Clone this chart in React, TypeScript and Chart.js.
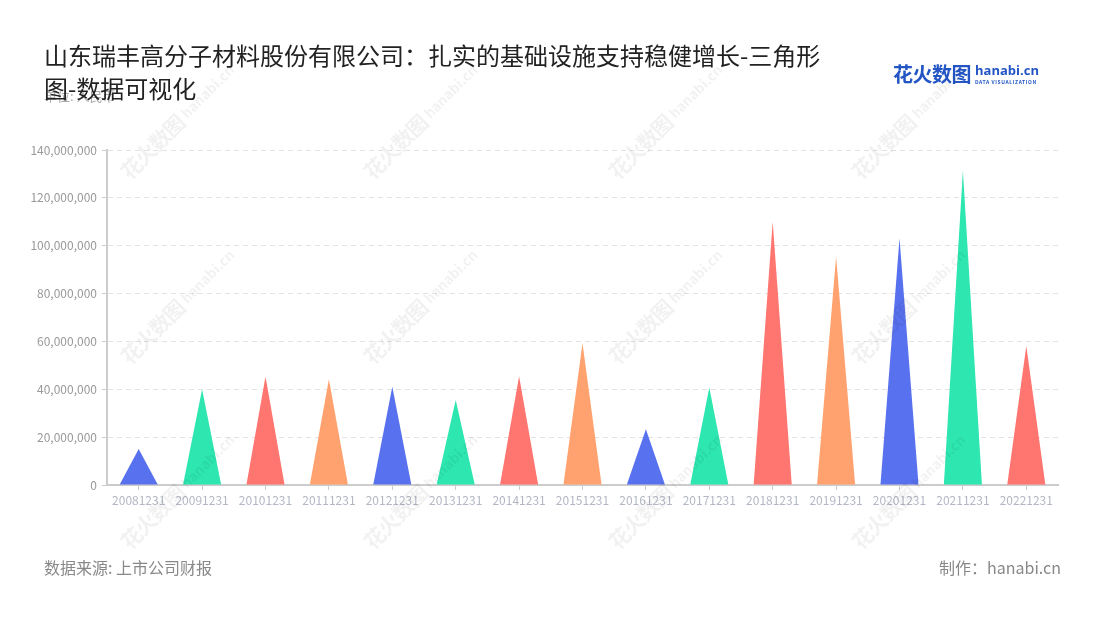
import React, { useEffect, useRef } from 'react';
import { Chart, registerables } from 'chart.js';

Chart.register(...registerables);

const categories = [
  '20081231', '20091231', '20101231', '20111231', '20121231',
  '20131231', '20141231', '20151231', '20161231', '20171231',
  '20181231', '20191231', '20201231', '20211231', '20221231',
];

const values = [
  15000000, 40000000, 45300000, 44200000, 41100000,
  35500000, 45500000, 59200000, 23300000, 40700000,
  110000000, 95400000, 103100000, 131300000, 58100000,
];

const palette = ['#5871EE', '#2DE6B0', '#FF7570', '#FFA26F'];
const barColors = categories.map((_, i) => palette[i % palette.length]);

const yMin = 0;
const yMax = 140000000;
const yStep = 20000000;

const titleText = '山东瑞丰高分子材料股份有限公司：扎实的基础设施支持稳健增长-三角形图-数据可视化';
const unitText = '单位: 人民币';
const sourceText = '数据来源: 上市公司财报';
const creditText = '制作：hanabi.cn';

const FONT = '"Noto Sans CJK SC", "Noto Sans", sans-serif';

const trianglePlugin = {
  id: 'triangles',
  beforeDatasetsDraw(chart: any) {
    const ctx = chart.ctx;
    chart.data.datasets.forEach((ds: any, di: number) => {
      const meta = chart.getDatasetMeta(di);
      meta.data.forEach((el: any, i: number) => {
        const { x, y, base, width } = el.getProps(['x', 'y', 'base', 'width'], true);
        ctx.save();
        ctx.beginPath();
        ctx.moveTo(x - width / 2, base);
        ctx.lineTo(x, y);
        ctx.lineTo(x + width / 2, base);
        ctx.closePath();
        ctx.fillStyle = Array.isArray(ds.backgroundColor) ? ds.backgroundColor[i] : ds.backgroundColor;
        ctx.fill();
        ctx.restore();
      });
    });
    return false;
  },
};

const wmCols = [132, 375, 620, 863];
const wmRows = [183, 368, 553];

function Watermark({ x, y }: { x: number; y: number }) {
  return (
    <div
      style={{
        position: 'absolute',
        left: x,
        top: y - 24,
        height: 24,
        transform: 'rotate(-45deg)',
        transformOrigin: '0 100%',
        whiteSpace: 'nowrap',
        color: 'rgba(0,0,0,0.055)',
        fontFamily: FONT,
        display: 'flex',
        alignItems: 'center',
        pointerEvents: 'none',
      }}
    >
      <span style={{ fontSize: 21, fontWeight: 700, letterSpacing: -1 }}>花火数图</span>
      <span style={{ fontSize: 14, fontWeight: 700, marginLeft: 4 }}>hanabi.cn</span>
    </div>
  );
}

export default function App() {
  const canvasRef = useRef<HTMLCanvasElement | null>(null);

  useEffect(() => {
    document.body.style.margin = '0';
    const canvas = canvasRef.current;
    if (!canvas) return;
    const chart = new Chart(canvas, {
      type: 'bar',
      data: {
        labels: categories,
        datasets: [
          {
            data: values,
            backgroundColor: barColors,
            borderWidth: 0,
            barPercentage: 0.6,
            categoryPercentage: 1,
          },
        ],
      },
      plugins: [trianglePlugin],
      options: {
        responsive: false,
        maintainAspectRatio: false,
        animation: false,
        devicePixelRatio: 1,
        layout: { padding: { top: 150, right: 42, left: 0, bottom: 0 } },
        plugins: {
          legend: { display: false },
          tooltip: { enabled: false },
          title: { display: false },
        },
        scales: {
          x: {
            afterFit: (scale: any) => {
              scale.height = 135;
            },
            grid: {
              display: true,
              offset: false,
              drawOnChartArea: false,
              drawTicks: true,
              tickLength: 5,
              tickColor: '#cccccc',
              tickWidth: 1,
            },
            border: { display: true, color: '#cccccc', width: 2 },
            ticks: {
              color: '#b3b7c4',
              font: { family: FONT, size: 12 },
              padding: 3,
              maxRotation: 0,
              autoSkip: false,
            },
          },
          y: {
            min: yMin,
            max: yMax,
            afterFit: (scale: any) => {
              scale.width = 107;
            },
            grid: {
              color: '#e2e2e2',
              lineWidth: 1,
              drawTicks: true,
              tickLength: 5,
              tickColor: '#cccccc',
              tickWidth: 1,
            },
            border: { display: true, color: '#cccccc', width: 2, dash: [5, 4] },
            ticks: {
              stepSize: yStep,
              color: '#999999',
              font: { family: FONT, size: 12 },
              padding: 5,
              callback: (v: any) => Number(v).toLocaleString('en-US'),
            },
          },
        },
      },
    } as any);
    return () => chart.destroy();
  }, []);

  return (
    <div
      style={{
        position: 'absolute',
        left: 0,
        top: 0,
        width: 1100,
        height: 620,
        background: '#ffffff',
        overflow: 'hidden',
        fontFamily: FONT,
      }}
    >
      <canvas ref={canvasRef} width={1100} height={620} style={{ position: 'absolute', left: 0, top: 0 }} />
      <div
        style={{
          position: 'absolute',
          left: 44,
          top: 86,
          fontSize: 13,
          lineHeight: '20px',
          color: '#aaaaaa',
        }}
      >
        {unitText}
      </div>
      <div
        style={{
          position: 'absolute',
          left: 44,
          top: 38,
          width: 790,
          fontSize: 24,
          lineHeight: '33px',
          color: '#222222',
        }}
      >
        {titleText}
      </div>
      <div style={{ position: 'absolute', left: 893, top: 59, display: 'flex', alignItems: 'center' }}>
        <span style={{ fontSize: 20, fontWeight: 700, color: '#2356c4', letterSpacing: -0.5 }}>花火数图</span>
        <div style={{ marginLeft: 4, display: 'flex', flexDirection: 'column', lineHeight: 1 }}>
          <span style={{ fontSize: 13, fontWeight: 700, color: '#2356c4', fontFamily: '"Open Sans", sans-serif' }}>hanabi.cn</span>
          <span style={{ fontSize: 5, fontWeight: 700, color: '#2356c4', letterSpacing: 0.6, marginTop: 2 }}>DATA VISUALIZATION</span>
        </div>
      </div>
      <div
        style={{
          position: 'absolute',
          left: 44,
          top: 555,
          fontSize: 16,
          lineHeight: '24px',
          color: '#888888',
        }}
      >
        {sourceText}
      </div>
      <div
        style={{
          position: 'absolute',
          right: 39,
          top: 555,
          fontSize: 16,
          lineHeight: '24px',
          color: '#888888',
        }}
      >
        {creditText}
      </div>
      {wmRows.map((y) => wmCols.map((x) => <Watermark key={`${x}-${y}`} x={x} y={y} />))}
    </div>
  );
}
